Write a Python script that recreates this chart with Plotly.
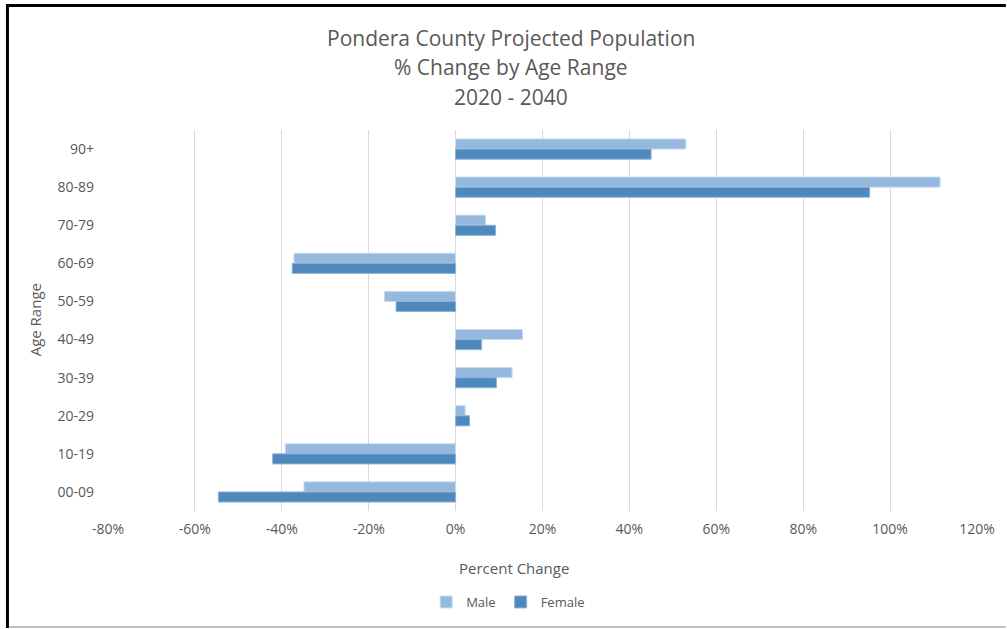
import plotly.graph_objects as go

age_ranges = ["90+", "80-89", "70-79", "60-69", "50-59", "40-49", "30-39", "20-29", "10-19", "00-09"]
male = [53.0, 111.5, 6.9, -37.2, -16.4, 15.4, 13.0, 2.2, -39.2, -34.9]
female = [45.0, 95.3, 9.2, -37.6, -13.7, 6.0, 9.4, 3.2, -42.1, -54.6]
x_ticks = [-80, -60, -40, -20, 0, 20, 40, 60, 80, 100, 120]
x_tick_labels = [f"{v}%" for v in x_ticks]

W, H = 1007, 629
L, R, T, B = 108, 981, 130, 511  # plot area in pixels

def px(x):
    return (x - L) / (R - L)

def py(y):
    return (B - y) / (B - T)

FONT = "'Open Sans', sans-serif"
GREY = "#595959"

fig = go.Figure()
fig.add_trace(go.Bar(
    y=age_ranges, x=male, name="Male", orientation="h",
    marker=dict(color="#95B8DE", line=dict(color="#C9DCF0", width=1)),
))
fig.add_trace(go.Bar(
    y=age_ranges, x=female, name="Female", orientation="h",
    marker=dict(color="#4F89BC", line=dict(color="#8DB3D8", width=1)),
))

fig.update_layout(
    width=W, height=H,
    margin=dict(l=L, r=W - R, t=T, b=H - B, pad=0),
    paper_bgcolor="white", plot_bgcolor="white",
    barmode="group", bargap=0.47, bargroupgap=0.0,
    font=dict(family=FONT, color=GREY, size=13),
    showlegend=True,
    legend=dict(orientation="h", x=px(510), xanchor="center", y=py(602), yanchor="middle",
                font=dict(size=13, color=GREY), itemwidth=30, traceorder="normal",
                tracegroupgap=0),
    xaxis=dict(range=[-80, 120], tickvals=x_ticks, ticktext=x_tick_labels,
               showgrid=True, gridcolor="#D9D9D9", gridwidth=1,
               zeroline=True, zerolinecolor="#D9D9D9", zerolinewidth=1,
               showline=False, ticks="", ticklabelstandoff=8, tickfont=dict(size=14, color=GREY)),
    yaxis=dict(type="category", categoryorder="array", categoryarray=age_ranges, autorange="reversed",
               showgrid=False, showline=False, ticks="", ticklabelstandoff=13,
               tickfont=dict(size=14, color=GREY)),
)

annotations = [
    dict(text="Pondera County Projected Population", x=px(513), y=py(38)),
    dict(text="% Change by Age Range", x=px(513), y=py(67)),
    dict(text="2020 - 2040", x=px(513), y=py(97)),
]
for a in annotations:
    fig.add_annotation(xref="paper", yref="paper", x=a["x"], y=a["y"], text=a["text"],
                       showarrow=False, xanchor="center", yanchor="middle",
                       font=dict(family=FONT, size=21, color=GREY))

fig.add_annotation(xref="paper", yref="paper", x=px(516), y=py(568), text="Percent Change",
                   showarrow=False, xanchor="center", yanchor="middle",
                   font=dict(family=FONT, size=15, color=GREY))
fig.add_annotation(xref="paper", yref="paper", x=px(35), y=py(320), text="Age Range",
                   showarrow=False, xanchor="center", yanchor="middle", textangle=-90,
                   font=dict(family=FONT, size=15, color=GREY))

# chart frame
fig.add_shape(type="line", xref="paper", yref="paper", x0=px(6), x1=px(1010), y0=py(5.5), y1=py(5.5),
              line=dict(color="black", width=3))
fig.add_shape(type="line", xref="paper", yref="paper", x0=px(7), x1=px(7), y0=py(4), y1=py(628),
              line=dict(color="black", width=3))
fig.add_shape(type="line", xref="paper", yref="paper", x0=px(9), x1=px(1010), y0=py(627), y1=py(627),
              line=dict(color="#BFBFBF", width=2))

fig.write_html("out.html")
